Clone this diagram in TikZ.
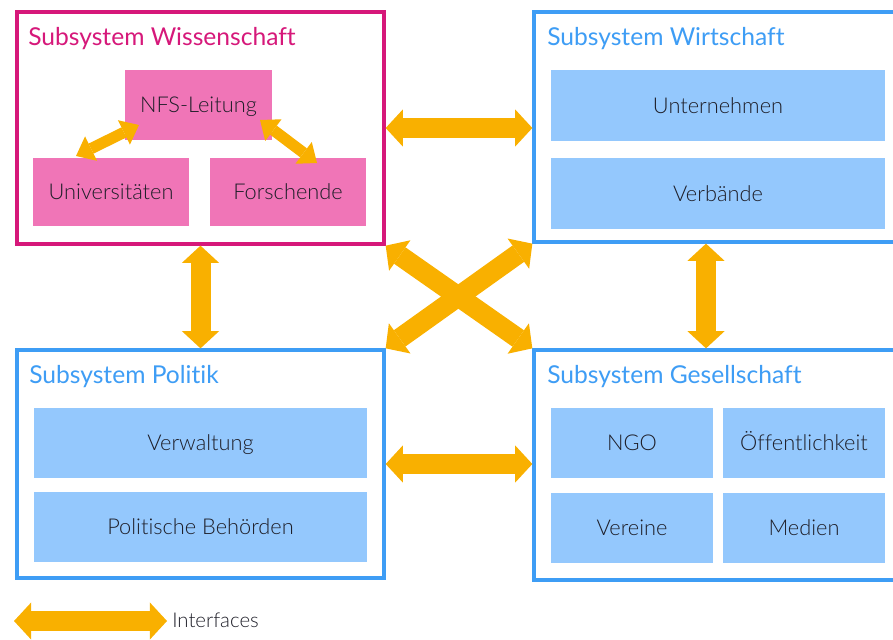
\documentclass[tikz,border=0pt]{standalone}
\usepackage{fontspec}
\IfFontExistsTF{Lato Light}
  {\setmainfont{Lato Light}[Ligatures=NoCommon]}
  {\setmainfont{Lato}[Ligatures=NoCommon]}
\newfontfamily\titlefont{Lato}[Ligatures=NoCommon]
\usepackage{tikz}
\usetikzlibrary{arrows.meta,calc,positioning}

\definecolor{wissMagenta}{RGB}{214, 24, 122}
\definecolor{wissPink}{RGB}{240, 117, 183}
\definecolor{sysBlue}{RGB}{62, 157, 245}
\definecolor{sysLightBlue}{RGB}{148, 200, 253}
\definecolor{ifaceOrange}{RGB}{249, 176, 0}
\definecolor{darkText}{RGB}{30, 30, 40}

\begin{document}
\begin{tikzpicture}[x=0.025cm,y=-0.025cm,
        subsys/.style={rectangle,line width=2.3pt,fill=white,inner sep=0pt},
        systitle/.style={anchor=base west,inner sep=0pt,font=\titlefont\fontsize{17.5}{20}\selectfont},
        part/.style={rectangle,inner sep=0pt,text=darkText,text height=11pt,text depth=0pt,
                     font=\fontsize{15.5}{19}\selectfont},
        iface/.style={draw=ifaceOrange,line width=0.5cm,
                     {Triangle[length=0.43cm,width=0.93cm,line width=0pt]}-{Triangle[length=0.43cm,width=0.93cm,line width=0pt]}},
        link/.style={draw=ifaceOrange,line width=0.28cm,
                     {Triangle[length=0.42cm,width=0.68cm,line width=0pt]}-{Triangle[length=0.42cm,width=0.68cm,line width=0pt]}}
    ]
        \useasboundingbox (0,0) rectangle (893,639);
        \clip (0,0) rectangle (893,639);

        % Subsystem Wissenschaft
        \node[subsys,draw=wissMagenta,minimum width=9.175cm,minimum height=5.8cm] (wiss) at (200.5,128) {};
        \node[systitle,text=wissMagenta] (wissT) at (28,45) {Subsystem Wissenschaft};
        \node[part,fill=wissPink,minimum width=3.675cm,minimum height=1.75cm] (nfs) at (198.5,105) {NFS-Leitung};
        \node[part,fill=wissPink,minimum width=3.9cm,minimum height=1.7cm] (uni) at (111,192) {Universitäten};
        \node[part,fill=wissPink,minimum width=3.9cm,minimum height=1.7cm] (forsch) at (288,192) {Forschende};

        % Subsystem Wirtschaft
        \node[subsys,draw=sysBlue,minimum width=9.225cm,minimum height=5.75cm] (wirt) at (718.5,127) {};
        \node[systitle,text=sysBlue] (wirtT) at (547,45) {Subsystem Wirtschaft};
        \node[part,fill=sysLightBlue,minimum width=8.35cm,minimum height=1.775cm] (untern) at (718,105.5) {Unternehmen};
        \node[part,fill=sysLightBlue,minimum width=8.35cm,minimum height=1.775cm] (verb) at (718,193.5) {Verbände};

        % Subsystem Politik
        \node[subsys,draw=sysBlue,minimum width=9.175cm,minimum height=5.7cm] (pol) at (200.5,464) {};
        \node[systitle,text=sysBlue] (polT) at (29,383) {Subsystem Politik};
        \node[part,fill=sysLightBlue,minimum width=8.325cm,minimum height=1.75cm] (verw) at (200.5,443) {Verwaltung};
        \node[part,fill=sysLightBlue,minimum width=8.325cm,minimum height=1.75cm] (behoerden) at (200.5,527) {Politische Behörden};

        % Subsystem Gesellschaft
        \node[subsys,draw=sysBlue,minimum width=9.225cm,minimum height=5.75cm] (ges) at (718.5,465) {};
        \node[systitle,text=sysBlue] (gesT) at (547,383) {Subsystem Gesellschaft};
        \node[part,fill=sysLightBlue,minimum width=4.05cm,minimum height=1.75cm] (ngo) at (632,443) {NGO};
        \node[part,fill=sysLightBlue,minimum width=4.05cm,minimum height=1.75cm] (oeff) at (804,443) {Öffentlichkeit};
        \node[part,fill=sysLightBlue,minimum width=4.05cm,minimum height=1.75cm] (vereine) at (632,527.5) {Vereine};
        \node[part,fill=sysLightBlue,minimum width=4.05cm,minimum height=1.75cm] (medien) at (804,527.5) {Medien};

        % interfaces inside Wissenschaft
        \coordinate (nfsL) at (139,125);
        \coordinate (uniT) at (76,156);
        \coordinate (nfsR) at (260,120);
        \coordinate (forschT) at (317,163);
        \draw[link] (nfsL) -- (uniT);
        \draw[link] (nfsR) -- (forschT);

        % interfaces between subsystems
        \coordinate (rv) at (706,0);
        \draw[iface] (wiss.east) -- (wiss.east -| wirt.west);
        \draw[iface] (pol.east) -- (pol.east -| ges.west);
        \draw[iface] (wiss.south) -- (pol.north);
        \draw[iface] (rv |- wirt.south) -- (rv |- ges.north);
        \draw[iface] (wiss.south east) -- (ges.north west);
        \draw[iface] (wirt.south west) -- (pol.north east);

        % legend
        \coordinate (legL) at (14,621);
        \coordinate (legR) at (167,621);
        \draw[iface] (legL) -- (legR);
        \node[anchor=base west,inner sep=0pt,text=darkText,font=\fontsize{14.5}{17}\selectfont] (legT) at (172,627) {Interfaces};
    \end{tikzpicture}
\end{document}
